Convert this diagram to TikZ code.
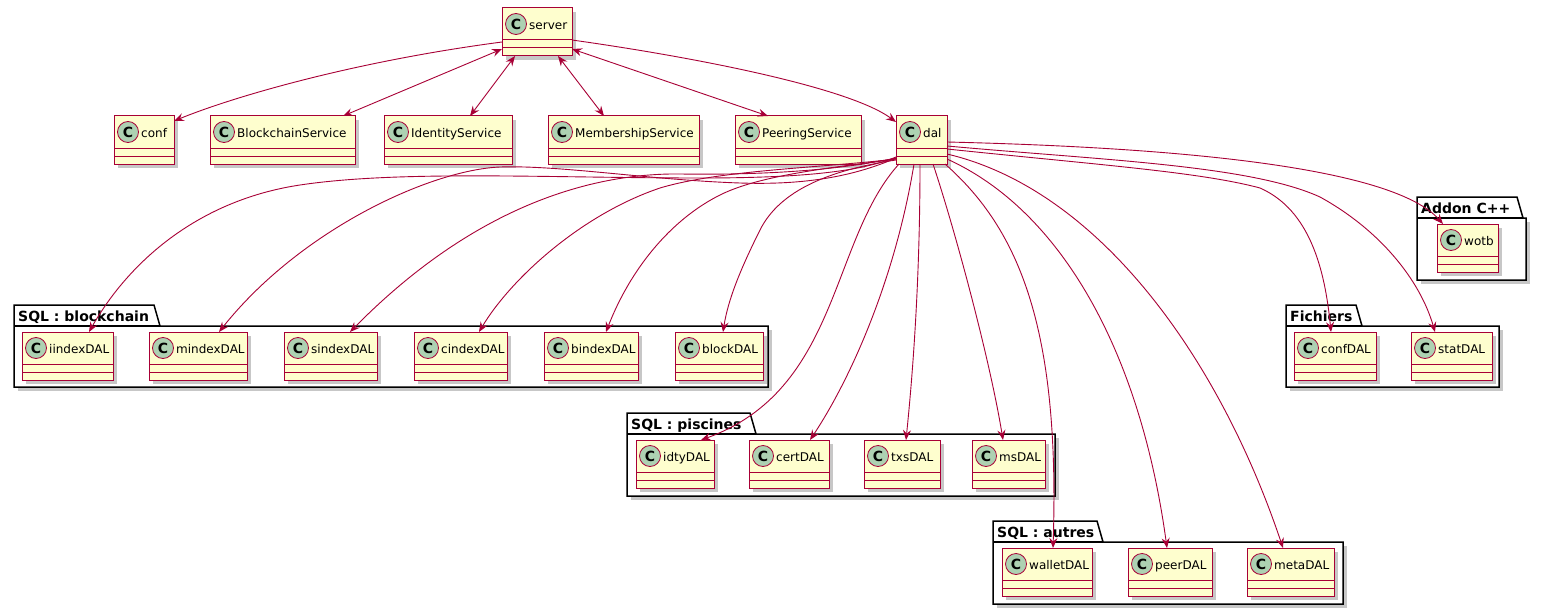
\documentclass[tikz,border=0pt]{standalone}
\usepackage{fontspec}
\setmainfont{DejaVu Sans}
\usetikzlibrary{arrows.meta}
\definecolor{umlred}{HTML}{A80036}
\definecolor{umlfill}{HTML}{FEFECE}
\definecolor{umlcirc}{HTML}{ADD1B2}
\tikzset{
 clsbox/.style={draw=umlred, fill=umlfill, line width=1pt, rectangle, inner sep=0pt, outer sep=0pt, anchor=north west, minimum height=48pt},
 clsline/.style={draw=umlred, line width=1pt},
 clsshadow/.style={fill=black!22},
 circC/.style={circle, draw=umlred, fill=umlcirc, line width=0.8pt, minimum size=21pt, inner sep=0pt, font=\fontsize{14}{14}\selectfont\bfseries},
 clsname/.style={anchor=base west, inner sep=0pt, font=\fontsize{12}{14}\selectfont},
 pkgshape/.style={draw=black, fill=white, line width=1.5pt, line join=miter},
 pkgname/.style={anchor=base west, inner sep=0pt, font=\fontsize{14}{16}\selectfont\bfseries},
 tip/.tip={Stealth[length=10pt,width=8pt,inset=3.5pt]},
 dep/.style={draw=umlred, line width=0.9pt, -tip},
 bidep/.style={draw=umlred, line width=0.9pt, tip-tip},
}
\newcommand\umlclass[5]{% name, left, top, width, label
 \fill[clsshadow] (#2+4,#3+4) rectangle ++(#4,48);
 \node[clsbox, minimum width=#4pt] (#1) at (#2,#3) {};
 \draw[clsline] ([yshift=-32pt]#1.north west) -- ([yshift=-32pt]#1.north east);
 \draw[clsline] ([yshift=-40pt]#1.north west) -- ([yshift=-40pt]#1.north east);
 \node[circC] (#1-c) at ([xshift=14pt,yshift=-16pt]#1.north west) {C};
 \node[clsname] (#1-t) at ([xshift=27pt,yshift=-21.5pt]#1.north west) {#5};
}
\newcommand\umlpkg[8]{% name, left, right, tabtop, bodytop, bottom, tabright, label
 \fill[black!22] (#2+4,#5+4) rectangle (#3+4,#6+4);
 \draw[pkgshape] (#2,#5) -- (#2,#4) -- (#7,#4) -- (#7+6,#5) -- (#3,#5) -- (#3,#6) -- (#2,#6) -- cycle;
 \draw[pkgshape] (#2,#5) -- (#7+6,#5);
 \node[pkgname] (#1) at (#2+4,#4+16) {#8};
}
\begin{document}
\begin{tikzpicture}[x=1pt,y=-1pt]
\useasboundingbox (0,0) rectangle (1546,615);
\fill[white] (0,0) rectangle (1546,615);

% packages
\umlpkg{pkgchain}{14}{768}{305}{326}{387}{154}{SQL : blockchain}
\umlpkg{pkgpisc}{627}{1055}{413}{434}{496}{750}{SQL : piscines}
\umlpkg{pkgautres}{993}{1343}{521}{542}{604}{1097}{SQL : autres}
\umlpkg{pkgfich}{1286}{1499}{305}{326}{387}{1356}{Fichiers}
\umlpkg{pkgaddon}{1417}{1526}{197}{218}{280}{1517}{Addon C++}

% classes
\umlclass{server}{502}{8}{70}{server}
\umlclass{conf}{114}{116}{60}{conf}
\umlclass{BlockchainService}{210}{116}{145}{BlockchainService}
\umlclass{IdentityService}{384}{116}{128}{IdentityService}
\umlclass{MembershipService}{548}{116}{151}{MembershipService}
\umlclass{PeeringService}{735}{116}{126}{PeeringService}
\umlclass{dal}{896}{116}{51}{dal}
\umlclass{iindexDAL}{22}{332}{91}{iindexDAL}
\umlclass{mindexDAL}{149}{332}{98}{mindexDAL}
\umlclass{sindexDAL}{284}{332}{93}{sindexDAL}
\umlclass{cindexDAL}{414}{332}{93}{cindexDAL}
\umlclass{bindexDAL}{544}{332}{94}{bindexDAL}
\umlclass{blockDAL}{675}{332}{88}{blockDAL}
\umlclass{idtyDAL}{636}{440}{78}{idtyDAL}
\umlclass{certDAL}{749}{440}{80}{certDAL}
\umlclass{txsDAL}{864}{440}{76}{txsDAL}
\umlclass{msDAL}{972}{440}{73}{msDAL}
\umlclass{walletDAL}{1002}{548}{90}{walletDAL}
\umlclass{peerDAL}{1128}{548}{84}{peerDAL}
\umlclass{metaDAL}{1247}{548}{87}{metaDAL}
\umlclass{confDAL}{1294}{332}{82}{confDAL}
\umlclass{statDAL}{1411}{332}{81}{statDAL}
\umlclass{wotb}{1437}{224}{61}{wotb}

% server edges
\draw[dep] ([yshift=-34pt]server.north west) .. controls (350,62) and (230,98) .. ([yshift=-5pt]conf.north east);
\draw[bidep] ([yshift=-41pt]server.north west) -- ([xshift=133pt]BlockchainService.north west);
\draw[bidep] ([xshift=13pt]server.south west) -- ([xshift=86pt]IdentityService.north west);
\draw[bidep] ([xshift=56pt]server.south west) -- ([xshift=56pt]MembershipService.north west);
\draw[bidep] ([yshift=-41pt]server.north east) -- ([xshift=33pt]PeeringService.north west);
\draw[dep] ([yshift=-32pt]server.north east) .. controls (700,58) and (850,88) .. ([yshift=-6pt]dal.north west);

% dal -> SQL blockchain
\draw[dep] ([yshift=-41pt]dal.north west) .. controls (860,172) and (800,178) .. (700,178) .. controls (550,178) and (400,170) .. (300,185) .. controls (200,200) and (130,260) .. ([xshift=67pt]iindexDAL.north west);
\draw[dep] ([yshift=-42pt]dal.north west) .. controls (850,178) and (800,185) .. (740,183) .. controls (650,180) and (560,165) .. (500,167) .. controls (430,170) and (300,230) .. ([xshift=70pt]mindexDAL.north west);
\draw[dep] ([yshift=-42pt]dal.north west) .. controls (830,172) and (750,175) .. (680,174) .. controls (600,173) and (480,200) .. ([xshift=66pt]sindexDAL.north west);
\draw[dep] ([yshift=-43pt]dal.north west) .. controls (820,168) and (720,170) .. (660,188) .. controls (580,215) and (510,280) .. ([xshift=65pt]cindexDAL.north west);
\draw[dep] ([yshift=-43pt]dal.north west) .. controls (830,168) and (760,175) .. (720,195) .. controls (670,220) and (630,270) .. ([xshift=62pt]bindexDAL.north west);
\draw[dep] ([yshift=-44pt]dal.north west) .. controls (830,170) and (780,190) .. (760,230) .. controls (740,270) and (728,300) .. ([xshift=48pt]blockDAL.north west);

% dal -> SQL piscines
\draw[dep] ([xshift=3pt]dal.south west) .. controls (830,240) and (840,390) .. ([xshift=65pt]idtyDAL.north west);
\draw[dep] ([xshift=18pt]dal.south west) .. controls (895,280) and (850,380) .. ([xshift=61pt]certDAL.north west);
\draw[dep] ([xshift=24pt]dal.south west) .. controls (920,300) and (910,400) .. ([xshift=42pt]txsDAL.north west);
\draw[dep] ([xshift=37pt]dal.south west) .. controls (955,230) and (990,360) .. ([xshift=31pt]msDAL.north west);

% dal -> SQL autres
\draw[dep] ([xshift=-2pt]dal.south east) .. controls (1020,230) and (1060,330) .. ([xshift=51pt]walletDAL.north west);
\draw[dep] ([yshift=5pt]dal.south east) .. controls (1060,210) and (1140,350) .. ([xshift=39pt]peerDAL.north west);
\draw[dep] ([yshift=10pt]dal.south east) .. controls (1100,190) and (1220,360) .. ([xshift=36pt]metaDAL.north west);

% dal -> Fichiers, Addon
\draw[dep] ([yshift=-33pt]dal.north east) .. controls (1100,165) and (1200,172) .. (1260,188) .. controls (1310,210) and (1325,270) .. ([xshift=37pt]confDAL.north west);
\draw[dep] ([yshift=-30pt]dal.north east) .. controls (1100,160) and (1250,165) .. (1320,197) .. controls (1380,230) and (1420,280) .. ([xshift=24pt]statDAL.north west);
\draw[dep] ([yshift=-26pt]dal.north east) .. controls (1200,148) and (1395,170) .. ([xshift=6pt]wotb.north west);
\end{tikzpicture}
\end{document}
